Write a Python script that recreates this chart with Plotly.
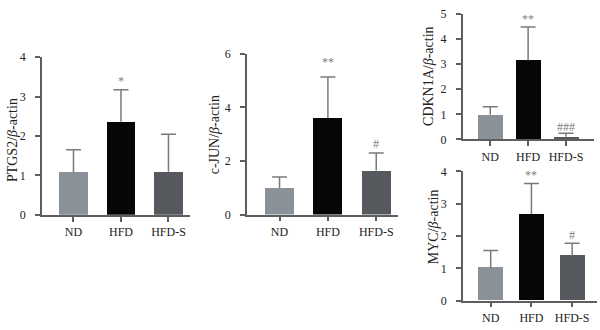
import plotly.graph_objects as go

groups = ["ND", "HFD", "HFD-S"]
colors = ["#8b9198", "#060606", "#565a5f"]

ptgs2_mean = [1.08, 2.36, 1.09]
ptgs2_err_top = [1.65, 3.17, 2.04]
ptgs2_sig = ["", "*", ""]

cjun_mean = [0.99, 3.61, 1.64]
cjun_err_top = [1.40, 5.14, 2.30]
cjun_sig = ["", "**", "#"]

cdkn1a_mean = [0.98, 3.15, 0.11]
cdkn1a_err_top = [1.30, 4.48, 0.25]
cdkn1a_sig = ["", "**", "###"]

myc_mean = [1.03, 2.68, 1.39]
myc_err_top = [1.55, 3.63, 1.78]
myc_sig = ["", "**", "#"]

FONT = "Liberation Serif"
AX = "#5e5e5e"
W, H = 600, 330
CAP_PX = 7.5

panels = [
    dict(mean=ptgs2_mean, top=ptgs2_err_top, sig=ptgs2_sig, name="PTGS2",
         px=(42, 190), py=(217, 52.3), yr=4, xr=(-0.663, 2.453), bw=0.61,
         tx=12, ty=139, sigshift=[0, 9, 0]),
    dict(mean=cjun_mean, top=cjun_err_top, sig=cjun_sig, name="c-JUN",
         px=(247, 398), py=(216.7, 49), yr=6, xr=(-0.673, 2.45), bw=0.60,
         tx=214, ty=134, sigshift=[0, 15, 9]),
    dict(mean=cdkn1a_mean, top=cdkn1a_err_top, sig=cdkn1a_sig, name="CDKN1A",
         px=(462.7, 594), py=(138.3, 7.3), yr=5, xr=(-0.728, 2.74), bw=0.66,
         tx=429, ty=72, sigshift=[0, 8, 6]),
    dict(mean=myc_mean, top=myc_err_top, sig=myc_sig, name="MYC",
         px=(463, 597), py=(306.7, 171.7), yr=4, xr=(-0.68, 2.61), bw=0.61,
         tx=433, ty=230, sigshift=[0, 8, 8]),
]

fig = go.Figure()
annotations = []
for i, p in enumerate(panels):
    n = "" if i == 0 else str(i + 1)
    xa, ya = "x" + n, "y" + n
    xs = list(range(len(groups)))
    fig.add_trace(go.Bar(
        x=xs, y=p["mean"], width=p["bw"],
        marker=dict(color=colors, line=dict(width=0)),
        xaxis=xa, yaxis=ya, showlegend=False, hoverinfo="skip"))
    # one-sided error bars (upper only), cap only at top
    cap = CAP_PX * (p["xr"][1] - p["xr"][0]) / (p["px"][1] - p["px"][0])
    ex, ey = [], []
    for j, (m, t) in enumerate(zip(p["mean"], p["top"])):
        ex += [j, j, None, j - cap, j + cap, None]
        ey += [m, t, None, t, t, None]
    fig.add_trace(go.Scatter(x=ex, y=ey, mode="lines",
                             line=dict(color="#7a7a7a", width=1.5),
                             xaxis=xa, yaxis=ya, showlegend=False,
                             hoverinfo="skip", cliponaxis=False))
    xd = [p["px"][0] / W, p["px"][1] / W]
    yd = [1 - p["py"][0] / H, 1 - p["py"][1] / H]
    common = dict(showline=True, linecolor=AX, linewidth=1.5, ticks="outside",
                  tickcolor=AX, tickwidth=1.5, ticklen=5, showgrid=False,
                  zeroline=False, tickfont=dict(family=FONT, size=12, color="#222"))
    fig.layout["xaxis" + n] = dict(domain=xd, range=list(p["xr"]), anchor=ya,
                                   tickmode="array", tickvals=xs,
                                   ticktext=groups, **common)
    fig.layout["yaxis" + n] = dict(domain=yd, range=[0, p["yr"]], anchor=xa,
                                   dtick=1 if p["yr"] != 6 else 2,
                                   ticklabelstandoff=7, **common)
    for j, s in enumerate(p["sig"]):
        if s:
            annotations.append(dict(x=j, y=p["top"][j], xref=xa, yref=ya,
                                    text=s, showarrow=False, yanchor="middle",
                                    xanchor="center", yshift=p["sigshift"][j],
                                    font=dict(family=FONT, size=12, color="#808080")))
    annotations.append(dict(x=p["tx"] / W, y=1 - p["ty"] / H, xref="paper",
                            yref="paper", text=p["name"] + "/<i>β</i>-actin",
                            textangle=-90, showarrow=False,
                            xanchor="center", yanchor="middle",
                            font=dict(family=FONT, size=14, color="#222")))

fig.update_layout(width=W, height=H, margin=dict(l=0, r=0, t=0, b=0),
                  plot_bgcolor="white", paper_bgcolor="white",
                  annotations=annotations, bargap=0, barmode="overlay")
fig.write_html("out.html")
